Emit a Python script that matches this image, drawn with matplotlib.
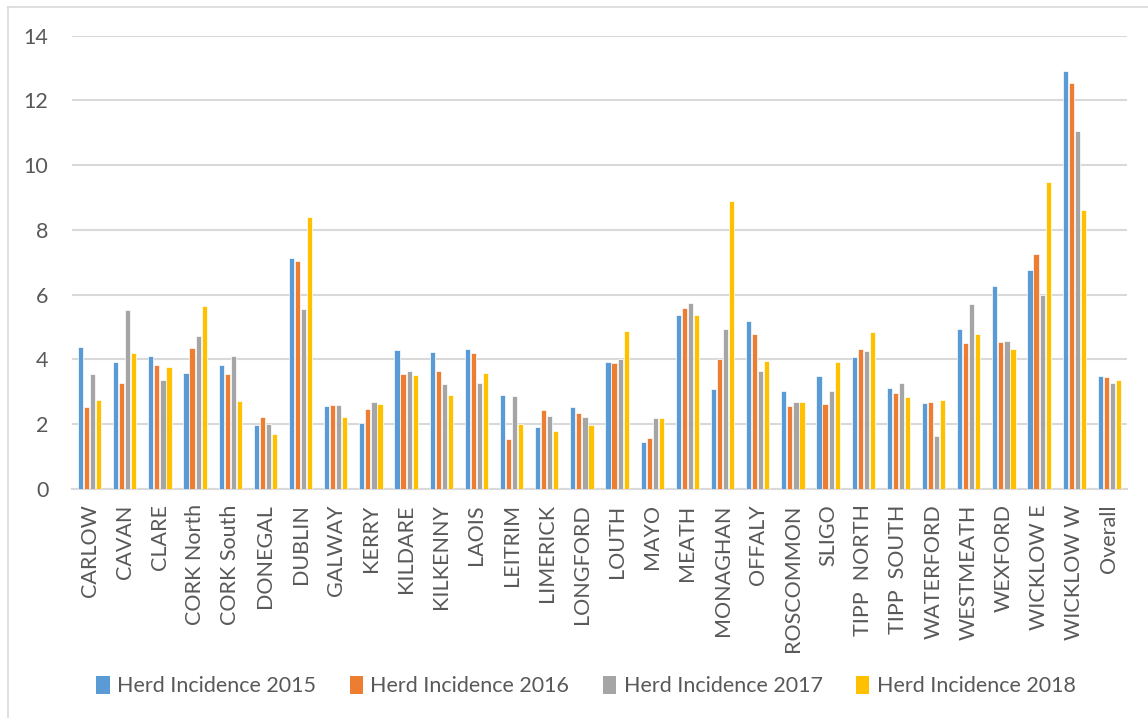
import matplotlib
matplotlib.use("Agg")
import matplotlib.pyplot as plt
import numpy as np
from matplotlib.patches import Patch
from matplotlib.lines import Line2D

categories = ["CARLOW", "CAVAN", "CLARE", "CORK North", "CORK South", "DONEGAL",
              "DUBLIN", "GALWAY", "KERRY", "KILDARE", "KILKENNY", "LAOIS",
              "LEITRIM", "LIMERICK", "LONGFORD", "LOUTH", "MAYO", "MEATH",
              "MONAGHAN", "OFFALY", "ROSCOMMON", "SLIGO", "TIPP  NORTH",
              "TIPP  SOUTH", "WATERFORD", "WESTMEATH", "WEXFORD", "WICKLOW E",
              "WICKLOW W", "Overall"]

hi_2015 = [4.38, 3.92, 4.10, 3.59, 3.82, 1.98, 7.13, 2.57, 2.05, 4.30,
           4.23, 4.33, 2.89, 1.91, 2.54, 3.93, 1.45, 5.36, 3.10, 5.19,
           3.03, 3.49, 4.09, 3.12, 2.67, 4.94, 6.28, 6.77, 12.89, 3.49]
hi_2016 = [2.52, 3.27, 3.84, 4.35, 3.55, 2.21, 7.05, 2.60, 2.48, 3.55,
           3.65, 4.20, 1.55, 2.43, 2.35, 3.89, 1.57, 5.59, 4.01, 4.79,
           2.57, 2.61, 4.32, 2.97, 2.68, 4.51, 4.54, 7.26, 12.53, 3.45]
hi_2017 = [3.55, 5.53, 3.38, 4.71, 4.10, 2.00, 5.56, 2.59, 2.70, 3.64,
           3.24, 3.28, 2.86, 2.26, 2.21, 4.01, 2.20, 5.75, 4.94, 3.65,
           2.70, 3.03, 4.26, 3.27, 1.65, 5.71, 4.57, 5.98, 11.04, 3.27]
hi_2018 = [2.75, 4.19, 3.77, 5.66, 2.72, 1.70, 8.39, 2.23, 2.61, 3.52,
           2.91, 3.59, 2.02, 1.78, 1.97, 4.87, 2.20, 5.38, 8.90, 3.96,
           2.70, 3.93, 4.84, 2.85, 2.76, 4.80, 4.32, 9.49, 8.60, 3.36]

series_labels = ["Herd Incidence 2015", "Herd Incidence 2016",
                 "Herd Incidence 2017", "Herd Incidence 2018"]
series = [hi_2015, hi_2016, hi_2017, hi_2018]
colors = ["#5B9BD5", "#ED7D31", "#A5A5A5", "#FFC000"]
yticks = [0, 2, 4, 6, 8, 10, 12, 14]

plt.rcParams['font.family'] = ['Lato', 'DejaVu Sans']
text_color = "#595959"

W, H = 1148, 718
fig = plt.figure(figsize=(W / 100, H / 100), dpi=100)
ax = fig.add_axes([72 / W, 1 - 489 / H, (1127 - 72) / W, (489 - 35.5) / H])

x = np.arange(len(categories))
slot = 0.173
bw = 0.145
for i, (vals, c, lab) in enumerate(zip(series, colors, series_labels)):
    ax.bar(x + (i - 1.5) * slot, vals, width=bw, color=c, label=lab,
           edgecolor="white", linewidth=0.5, zorder=3)

ax.set_xlim(-0.5, len(categories) - 0.5)
ax.set_ylim(0, 14)
ax.set_yticks(yticks)
ax.set_yticklabels([str(t) for t in yticks])
ax.set_xticks(x)
ax.set_xticklabels(categories, rotation=90, va="top", ha="center")
ax.tick_params(axis="y", length=0, pad=17, labelsize=15.5, labelcolor=text_color)
ax.tick_params(axis="x", length=0, pad=11, labelsize=15.5, labelcolor=text_color)
ax.grid(axis="y", color="#D9D9D9", linewidth=1.5, zorder=0)
ax.set_axisbelow(True)
for s in ["top", "right", "left"]:
    ax.spines[s].set_visible(False)
ax.spines["bottom"].set_color("#D9D9D9")
ax.spines["bottom"].set_linewidth(1.5)

handles = [Patch(facecolor=c, edgecolor="none") for c in colors]
fig.legend(handles, series_labels, loc="center", ncol=4,
           bbox_to_anchor=(586 / W, 1 - 686 / H), frameon=False,
           fontsize=15.5, labelcolor=text_color, handlelength=0.62,
           handleheight=0.9, handletextpad=0.35, columnspacing=1.55)

# outer chart frame (top and left edges visible)
fig.add_artist(Line2D([8 / W, 1.0], [1 - 7 / H, 1 - 7 / H], color="#D9D9D9",
                      linewidth=1.2, transform=fig.transFigure))
fig.add_artist(Line2D([8 / W, 8 / W], [0, 1 - 7 / H], color="#D9D9D9",
                      linewidth=1.2, transform=fig.transFigure))

fig.savefig("out.png", dpi=100)
